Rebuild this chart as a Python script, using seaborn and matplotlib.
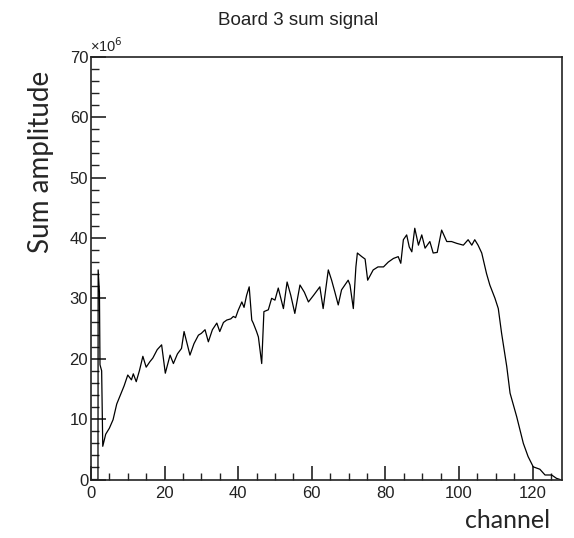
import matplotlib
matplotlib.use("Agg")
import matplotlib.pyplot as plt
from matplotlib.ticker import MultipleLocator
import seaborn as sns
import pandas as pd

title = "Board 3 sum signal"
xlabel = "channel"
ylabel = "Sum amplitude"

channel = [0, 1.9, 1.95, 2.3, 2.45, 2.9, 3.2, 4, 5, 6, 7, 8.2, 9, 10, 11, 11.5, 12.3,
           13.2, 14.1, 15, 16, 16.8, 18, 19.2, 20.2, 21.5, 22.4, 23.5, 24.6, 25.3, 26.9,
           28, 29.2, 30, 31, 31.9, 33, 34.2, 35, 36, 36.9, 38, 38.7, 39.3, 40, 41, 41.6,
           42.3, 43, 43.7, 44.1, 45, 45.5, 46.4, 47, 48.2, 49.1, 50, 50.9, 52.3, 53.3,
           54.3, 55.4, 56.8, 58, 59.1, 60.5, 62.2, 63.1, 64.5, 65.4, 66.3, 67.2, 68.1,
           69.9, 70.4, 71.3, 72, 72.4, 73.6, 74.5, 75.2, 76.7, 78, 79.5, 80.8, 82.2, 83.5,
           84.2, 84.9, 85.8, 86.5, 87.2, 88, 89, 89.9, 90.8, 92.1, 93, 94.1, 95.3, 96.7,
           98, 99.4, 101.2, 102.5, 103.5, 104.3, 105.2, 106.2, 107.5, 108.4, 109.8, 110.7,
           111.6, 113, 113.9, 115.7, 117.5, 118.8, 120.2, 122, 123.4, 125.2, 126.5, 127.5]
amplitude_e6 = [0, 0, 34.7, 31, 19, 18, 5.5, 7.5, 8.5, 9.9, 12.5, 14.3, 15.5, 17.3, 16.5,
                17.5, 16.2, 18.1, 20.4, 18.6, 19.5, 20.1, 21.5, 22.3, 17.6, 20.6, 19.2,
                20.8, 21.7, 24.5, 20.6, 22.5, 23.9, 24.2, 24.8, 22.8, 24.8, 25.9, 24.5,
                26, 26.4, 26.6, 27, 26.8, 28, 29.4, 28.5, 30.5, 31.9, 26.4, 25.9, 24.5,
                23.6, 19.2, 27.8, 28.1, 30, 29.7, 31.7, 28.3, 32.7, 30.5, 27.5, 32.2, 31,
                29.4, 30.5, 31.9, 28.3, 34.7, 33, 31, 28.9, 31.4, 33, 32.2, 28.3, 35.2,
                37.5, 36.9, 36.5, 33, 34.7, 35.2, 35.2, 36, 36.6, 36.9, 35.8, 39.7, 40.5,
                38.5, 37.7, 41.6, 38.8, 40.5, 38.3, 39.4, 37.5, 37.6, 41.3, 39.4, 39.4,
                39.1, 38.8, 39.7, 38.8, 39.7, 38.8, 37.5, 34.1, 32.2, 30, 28.3, 24.2, 18.7,
                14.3, 10.4, 6, 3.8, 2.1, 1.7, 0.75, 0.75, 0.2, 0]

x_ticks = [0, 20, 40, 60, 80, 100, 120]
y_ticks = [0, 10, 20, 30, 40, 50, 60, 70]

df = pd.DataFrame({"channel": channel, "amp": amplitude_e6})

sns.set_theme(style="white")
plt.rcParams["font.family"] = ["Liberation Sans", "DejaVu Sans"]

fig = plt.figure(figsize=(5.74, 5.38), dpi=100)
ax = fig.add_axes([0.1585, 0.1087, 0.8205, 0.7859])
sns.lineplot(data=df, x="channel", y="amp", ax=ax, sort=False, estimator=None,
             color="black", linewidth=0.9)

ax.set_xlim(0, 128)
ax.set_ylim(0, 70)
ax.set_xticks(x_ticks)
ax.set_yticks(y_ticks)
ax.set_xticklabels([str(v) for v in x_ticks])
ax.set_yticklabels([str(v) for v in y_ticks])
ax.xaxis.set_minor_locator(MultipleLocator(5))
ax.yaxis.set_minor_locator(MultipleLocator(2))
ax.tick_params(axis="both", which="both", direction="in", colors="#222222",
               labelsize=12, top=False, right=False, bottom=True, left=True)
ax.tick_params(axis="y", which="major", length=11, width=1.2, pad=2)
ax.tick_params(axis="y", which="minor", length=6, width=1.0)
ax.tick_params(axis="x", which="major", length=10, width=1.2, pad=5)
ax.tick_params(axis="x", which="minor", length=5, width=1.0)
for s in ax.spines.values():
    s.set_color("#222222")
    s.set_linewidth(1.2)
ax.set_xlabel("")
ax.set_ylabel("")

fig.text(0.157, 0.897, "×10$^{6}$", fontsize=10.5, color="#222222", ha="left", va="bottom")
fig.text(0.52, 0.962, title, fontsize=13.5, color="#222222", ha="center", va="center")
fig.text(0.072, 0.70, ylabel, fontsize=20, rotation=90, ha="center", va="center",
         family=["Lato", "DejaVu Sans"])
fig.text(0.885, 0.033, xlabel, fontsize=18, ha="center", va="center",
         family=["Lato", "DejaVu Sans"])

fig.savefig("out.png", dpi=100)
